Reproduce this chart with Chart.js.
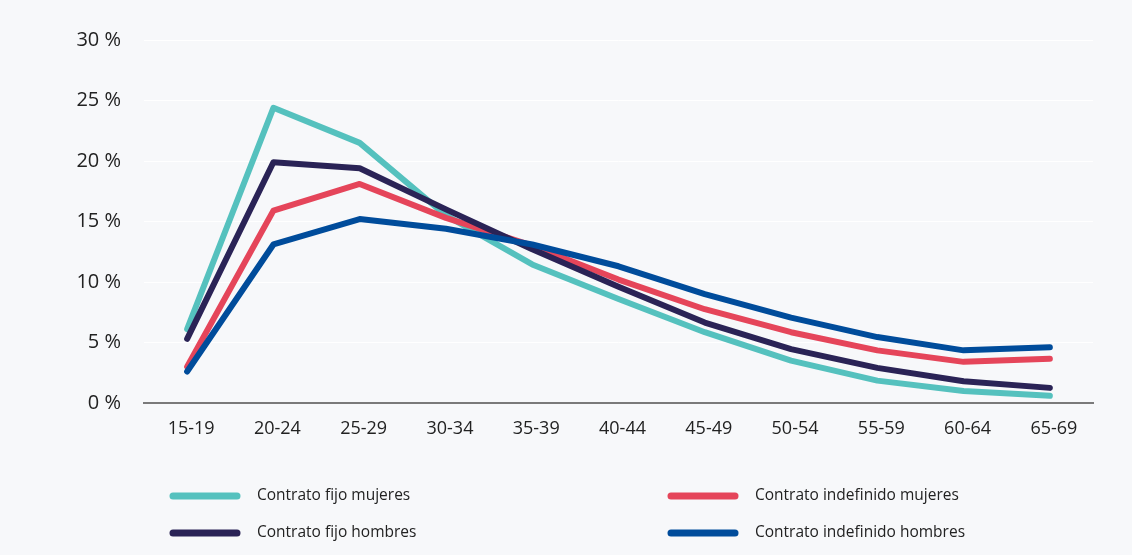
<!DOCTYPE html>
<html>
<head>
<meta charset="utf-8">
<script src="https://cdn.jsdelivr.net/npm/chart.js@4.4.1/dist/chart.umd.min.js"></script>
<style>
  html, body { margin: 0; padding: 0; background: #f7f8fa; }
  #wrap { width: 1132px; height: 555px; position: relative; }
</style>
</head>
<body>
<div id="wrap"><canvas id="c" width="1132" height="555"></canvas></div>
<script>
const categories = ['15-19', '20-24', '25-29', '30-34', '35-39', '40-44', '45-49', '50-54', '55-59', '60-64', '65-69'];
const fijoMujeres = [6.1, 24.4, 21.5, 15.5, 11.45, 8.6, 5.85, 3.5, 1.85, 1.0, 0.6];
const fijoHombres = [5.3, 19.9, 19.4, 16.0, 12.7, 9.6, 6.65, 4.45, 2.9, 1.8, 1.25];
const indefinidoMujeres = [3.0, 15.9, 18.1, 15.3, 13.0, 10.2, 7.75, 5.85, 4.35, 3.4, 3.65];
const indefinidoHombres = [2.6, 13.1, 15.2, 14.4, 13.1, 11.3, 9.0, 7.05, 5.45, 4.35, 4.6];
const seriesNames = ['Contrato fijo mujeres', 'Contrato indefinido mujeres', 'Contrato fijo hombres', 'Contrato indefinido hombres'];
const yTicks = [0, 5, 10, 15, 20, 25, 30];

const colors = ['#55c1be', '#e5455a', '#2a2356', '#004c9b'];
const seriesData = [fijoMujeres, indefinidoMujeres, fijoHombres, indefinidoHombres];
const drawOrder = [3, 2, 1, 0];

const legendPlugin = {
  id: 'twoColLegend',
  afterDraw(chart) {
    const ctx = chart.ctx;
    const colX = [170, 668];
    const rowY = [496, 533];
    ctx.save();
    chart.data.datasets.forEach((ds, i) => {
      const x = colX[i % 2];
      const y = rowY[Math.floor(i / 2)];
      ctx.strokeStyle = ds.borderColor;
      ctx.lineWidth = 7;
      ctx.lineCap = 'round';
      ctx.beginPath();
      ctx.moveTo(x + 3, y);
      ctx.lineTo(x + 67, y);
      ctx.stroke();
      ctx.fillStyle = '#222';
      ctx.font = '15.5px "Open Sans"';
      ctx.textBaseline = 'middle';
      ctx.textAlign = 'left';
      ctx.fillText(ds.label, x + 87, y);
    });
    ctx.restore();
  }
};

const bgPlugin = {
  id: 'bg',
  beforeDraw(chart) {
    const ctx = chart.ctx;
    ctx.save();
    ctx.fillStyle = '#f7f8fa';
    ctx.fillRect(0, 0, chart.width, chart.height);
    ctx.restore();
  }
};

new Chart(document.getElementById('c'), {
  type: 'line',
  data: {
    labels: categories,
    datasets: seriesNames.map((name, i) => ({
      label: name,
      data: seriesData[i],
      borderColor: colors[i],
      backgroundColor: colors[i],
      borderWidth: 6,
      borderCapStyle: 'round',
      borderJoinStyle: 'round',
      pointRadius: 0,
      pointHoverRadius: 0,
      tension: 0,
      fill: false,
      order: drawOrder[i]
    }))
  },
  options: {
    responsive: false,
    animation: false,
    events: [],
    layout: { padding: { top: 40, right: 39, left: 0, bottom: 0 } },
    plugins: {
      legend: { display: false },
      tooltip: { enabled: false },
      title: { display: false }
    },
    scales: {
      x: {
        type: 'category',
        offset: true,
        grid: { display: false, drawTicks: false },
        border: { display: true, color: '#7a7a7a', width: 2 },
        ticks: {
          color: '#222',
          font: { family: '"Open Sans"', size: 18 },
          padding: 15,
          labelOffset: 4,
          maxRotation: 0,
          autoSkip: false
        },
        afterFit(scale) { scale.height = 152; }
      },
      y: {
        min: 0,
        max: 30,
        afterBuildTicks(scale) { scale.ticks = yTicks.map(v => ({ value: v })); },
        grid: { color: '#ffffff', lineWidth: 1, drawTicks: false },
        border: { display: false },
        ticks: {
          color: '#222',
          font: { family: '"Open Sans"', size: 20 },
          padding: 23,
          callback: (v) => v + ' %'
        },
        afterFit(scale) { scale.width = 144; }
      }
    }
  },
  plugins: [bgPlugin, legendPlugin]
});
</script>
</body>
</html>
